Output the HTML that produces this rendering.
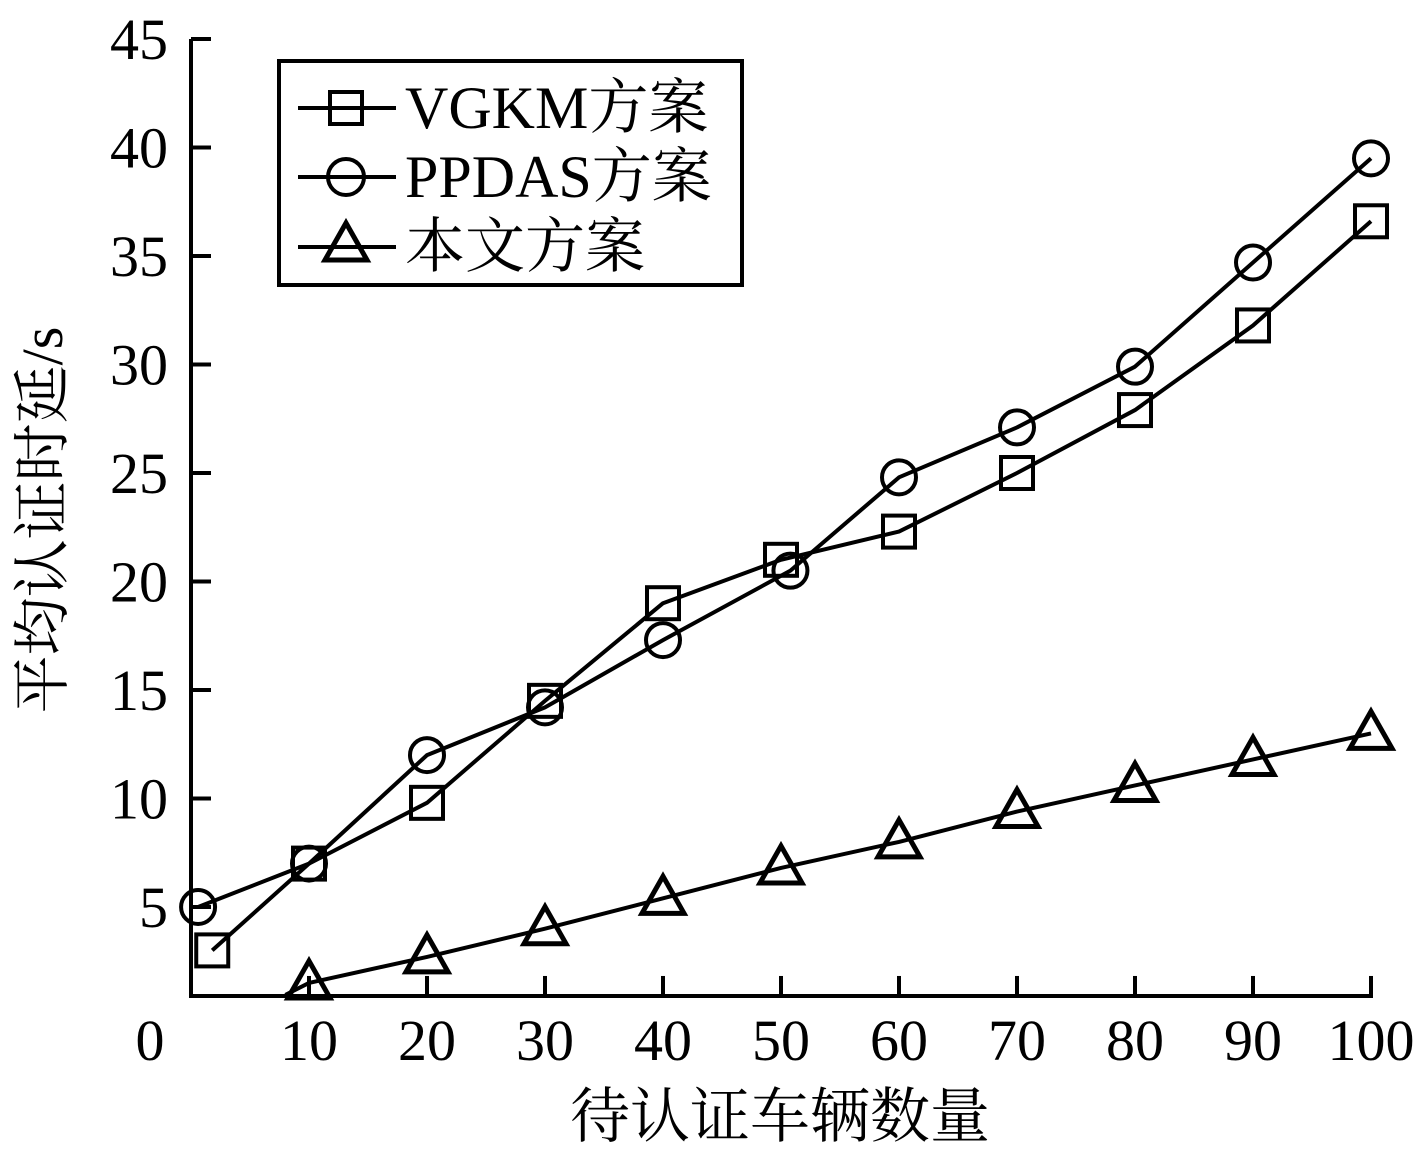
<!DOCTYPE html>
<html><head><meta charset="utf-8"><style>
html,body{margin:0;padding:0;background:#fff;}
svg{display:block;font-family:"Liberation Serif","Noto Serif CJK SC",serif;}
</style></head><body>
<svg id="chart" width="1419" height="1152" viewBox="0 0 1419 1152" xmlns="http://www.w3.org/2000/svg">
<g id="axes"></g>
<g id="series"></g>
<g>
  <rect x="279" y="61" width="463" height="224" fill="#fff" stroke="#000" stroke-width="4"/>
  <g>
    <line x1="298" y1="108" x2="396" y2="108" stroke="#000" stroke-width="4"/>
    <rect x="330" y="92" width="32" height="32" fill="none" stroke="#000" stroke-width="4"/>
    <text x="405" y="128" font-size="60">VGKM方案</text>
  </g>
  <g>
    <line x1="298" y1="177" x2="396" y2="177" stroke="#000" stroke-width="4"/>
    <circle cx="346" cy="177" r="18" fill="none" stroke="#000" stroke-width="4"/>
    <text x="405" y="197" font-size="60">PPDAS方案</text>
  </g>
  <g>
    <line x1="298" y1="247" x2="396" y2="247" stroke="#000" stroke-width="4"/>
    <polygon points="346,223 325,260 367,260" fill="none" stroke="#000" stroke-width="5"/>
    <text x="405" y="267" font-size="60">本文方案</text>
  </g>
</g>
<text x="780" y="1137" font-size="60" text-anchor="middle">待认证车辆数量</text>
<text transform="translate(62,520) rotate(-90)" font-size="58" text-anchor="middle">平均认证时延/s</text>
</svg>
<script>
const xTicks = [0,10,20,30,40,50,60,70,80,90,100];
const yTicks = [5,10,15,20,25,30,35,40,45];
const vgkmX = [1.8,10,20,30,40,50,60,70,80,90,100];
const vgkmY = [3.0,7.0,9.8,14.5,19.0,21.0,22.3,25.0,27.9,31.8,36.6];
const ppdasX = [0.6,10,20,30,40,50.8,60,70,80,90,100];
const ppdasY = [5.0,7.0,12.0,14.2,17.3,20.5,24.8,27.1,29.9,34.7,39.5];
const oursX = [8,10,20,30,40,50,60,70,80,90,100];
const oursY = [0.95,1.5,2.7,4.0,5.4,6.8,8.0,9.4,10.6,11.8,13.0];
const oursMarker = [false,true,true,true,true,true,true,true,true,true,true];

const NS="http://www.w3.org/2000/svg";
const X0=191, XS=11.8, Y0=1015.5, YS=21.7, YMIN=0.9;
const sx=v=>X0+v*XS, sy=v=>Y0-v*YS;
function mk(tag,attrs,parent){const e=document.createElementNS(NS,tag);for(const k in attrs)e.setAttribute(k,attrs[k]);parent.appendChild(e);return e;}
const axes=document.getElementById('axes'), ser=document.getElementById('series');
const bottom=sy(YMIN);
let a=mk('line',{x1:X0,y1:sy(45),x2:X0,y2:bottom+2,stroke:'#000','stroke-width':4},axes);


a=mk('line',{x1:X0-2,y1:bottom,x2:sx(100)+2,y2:bottom,stroke:'#000','stroke-width':4},axes);


yTicks.forEach(v=>{
  const t=mk('line',{x1:X0,y1:sy(v),x2:X0+20,y2:sy(v),stroke:'#000','stroke-width':4},axes);
  
  
  const l=mk('text',{x:168,y:sy(v)+20,'font-size':58,'text-anchor':'end'},axes);
  l.textContent=v;
  
  
});
xTicks.forEach(v=>{
  if(v>0){const t=mk('line',{x1:sx(v),y1:bottom,x2:sx(v),y2:bottom-20,stroke:'#000','stroke-width':4},axes);
  
  }
  const lx = v===0?150:sx(v);
  const l=mk('text',{x:lx,y:1060,'font-size':58,'text-anchor':'middle'},axes);
  l.textContent=v;
  
  
});
function draw(xs,ys,shape,name,show){
  const g=mk('g',{},ser);
  
  
  const pl=mk('polyline',{points:xs.map((x,i)=>sx(x)+','+sy(ys[i])).join(' '),fill:'none',stroke:'#000','stroke-width':4,'stroke-linejoin':'round'},g);
  
  
  xs.forEach((x,i)=>{
    if(show && !show[i]) return;
    const cx=sx(x), cy=sy(ys[i]); let m;
    if(shape==='sq') m=mk('rect',{x:cx-16,y:cy-16,width:32,height:32,fill:'none',stroke:'#000','stroke-width':4},g);
    else if(shape==='ci') m=mk('circle',{cx:cx,cy:cy,r:17,fill:'none',stroke:'#000','stroke-width':4},g);
    else m=mk('polygon',{points:`${cx},${cy-22} ${cx-21},${cy+15} ${cx+21},${cy+15}`,fill:'none',stroke:'#000','stroke-width':5},g);
    
    
  });
}
draw(vgkmX,vgkmY,'sq','vgkm-series');
draw(ppdasX,ppdasY,'ci','ppdas-series');
draw(oursX,oursY,'tri','ours-series',oursMarker);
</script>
</body></html>
